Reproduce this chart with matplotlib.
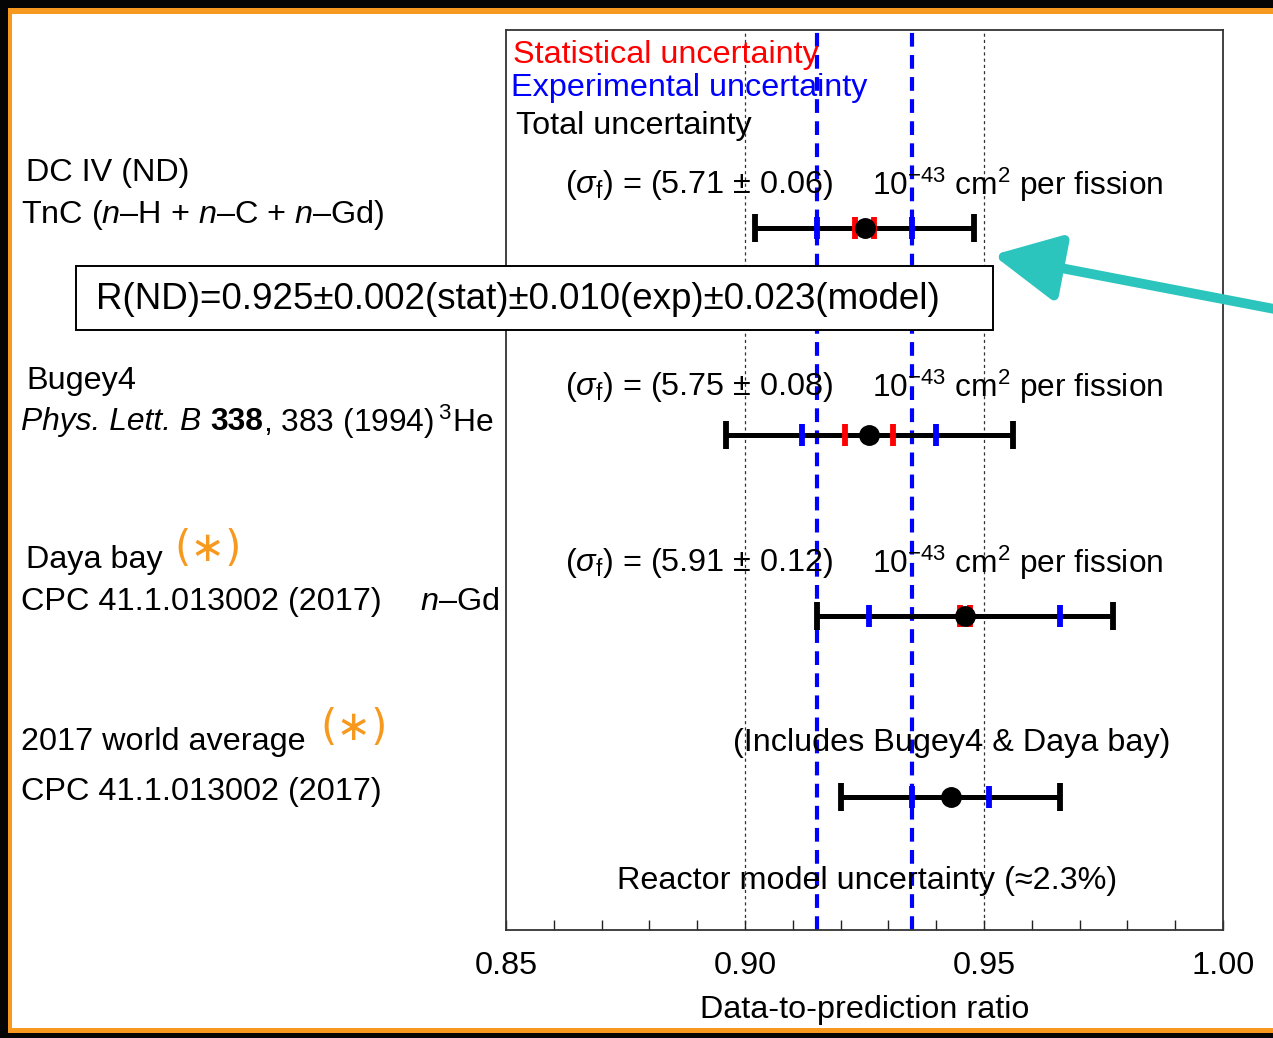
import matplotlib
matplotlib.use("Agg")
import matplotlib.pyplot as plt
from matplotlib.patches import Rectangle, FancyArrowPatch

plt.rcParams['font.family'] = ['Liberation Sans', 'DejaVu Sans']
plt.rcParams['mathtext.fontset'] = 'custom'
plt.rcParams['mathtext.rm'] = 'Liberation Sans'
plt.rcParams['mathtext.it'] = 'Liberation Sans:italic'
plt.rcParams['mathtext.bf'] = 'Liberation Sans:bold'
plt.rcParams['mathtext.sf'] = 'Liberation Sans'

# ---- data: data-to-prediction ratios ----
experiments = ["DC IV (ND)", "Bugey4", "Daya bay", "2017 world average"]
ratio = [0.925, 0.926, 0.946, 0.943]
stat_unc = [0.002, 0.005, 0.001, None]
exp_unc = [0.010, 0.014, 0.020, 0.008]
total_unc = [0.023, 0.030, 0.031, 0.023]
sigma_f = ["5.71", "5.75", "5.91"]
sigma_f_err = ["0.06", "0.08", "0.12"]
dc_band = [0.915, 0.935]          # DC IV experimental band
ref_lines = [0.90, 0.95]
xticks = [0.85, 0.90, 0.95, 1.00]
xtick_labels = ["0.85", "0.90", "0.95", "1.00"]

W, H = 1273, 1038
fig = plt.figure(figsize=(W / 100, H / 100), dpi=100)
renderer = fig.canvas.get_renderer()


def fx(px):
    return px / W


def fy(py):
    return 1 - py / H


def run_text(x_px, y_px, pieces, size):
    """Draw consecutive text pieces on one line, left to right."""
    x = x_px
    for s, props in pieces:
        t = fig.text(fx(x), fy(y_px), s, fontsize=size, va='center', ha='left', **props)
        x += t.get_window_extent(renderer).width


ax = fig.add_axes([fx(506), fy(930), fx(1223) - fx(506), fy(30) - fy(930)])
ax.set_xlim(0.85, 1.00)
ax.set_ylim(900, 0)

row_y = [198, 405, 586, 767]

# reference and band lines
for xv in ref_lines:
    ax.axvline(xv, color='#333333', lw=0.9, ls=(0, (2.5, 2.5)), zorder=1)
for xv in dc_band:
    ax.axvline(xv, color='#0000ff', lw=3.0, ls=(0, (3.3, 2.0)), zorder=2)

for i, y in enumerate(row_y):
    x = ratio[i]
    ax.errorbar([x], [y], xerr=[total_unc[i]], fmt='none', ecolor='black',
                elinewidth=3.6, capsize=10, capthick=4.2, zorder=3)
    ax.vlines([x - exp_unc[i], x + exp_unc[i]], y - 11, y + 11,
              colors='#0000ff', lw=4.2, zorder=4)
    if stat_unc[i] is not None:
        ax.vlines([x - stat_unc[i], x + stat_unc[i]], y - 11, y + 11,
                  colors='#ff0000', lw=4.2, zorder=5)
    ax.plot([x], [y], 'o', color='black', ms=14, zorder=6)

fs = 23.3

ax.set_yticks([])
ax.set_xticks(xticks)
ax.set_xticklabels(xtick_labels)
ax.set_xticks([0.85 + 0.01 * k for k in range(16)], minor=True)
ax.tick_params(axis='x', which='both', direction='in', length=7, width=1.0,
               labelsize=fs, pad=15, colors='#222222', labelcolor='black')
for s in ax.spines.values():
    s.set_linewidth(1.3)
    s.set_color('#333333')
ax.set_xlabel("Data-to-prediction ratio", fontsize=fs, labelpad=10)


def ax_x(px):
    return 0.85 + (px - 506) / 4780


# legend-like texts
ax.text(ax_x(513), 25, "Statistical uncertainty",
        color='#ff0000', fontsize=fs, va='center', ha='left', zorder=7)
ax.text(ax_x(511), 58, "Experimental uncertainty",
        color='#0000ff', fontsize=fs, va='center', ha='left', zorder=7)
ax.text(ax_x(516), 96, "Total uncertainty",
        color='black', fontsize=fs, va='center', ha='left', zorder=7)

# cross-section annotations
sig_rows = [155, 357, 533]
for k, yy in enumerate(sig_rows):
    ax.text(ax_x(565), yy,
            r"($\sigma_{\mathrm{f}}$) = (" + sigma_f[k] + " ± " + sigma_f_err[k] + ")",
            fontsize=fs, va='center', ha='left', zorder=7)
    ax.text(ax_x(872), yy,
            r"10$^{-43}$ cm$^{2}$ per fission",
            fontsize=22.8, va='center', ha='left', zorder=7)

ax.text(ax_x(733), 713, "(Includes Bugey4 & Daya bay)",
        fontsize=fs, va='center', ha='left', zorder=7)
ax.text(ax_x(617), 851, "Reactor model uncertainty (≈2.3%)",
        fontsize=fs, va='center', ha='left', zorder=7)

# left-hand labels
fig.text(fx(26), fy(173), "DC IV (ND)", fontsize=fs, va='center')
fig.text(fx(21), fy(215), r"TnC ($\mathit{n}$–H + $\mathit{n}$–C + $\mathit{n}$–Gd)",
         fontsize=fs, va='center')
fig.text(fx(26), fy(381), "Bugey4", fontsize=fs, va='center')
run_text(21, 422, [("Phys. Lett. B ", dict(fontstyle='italic')),
                   ("338", dict(fontweight='bold')),
                   (r", 383 (1994)$\,^{3}$He", {})], 22.9)
fig.text(fx(26), fy(560), "Daya bay", fontsize=fs, va='center')
fig.text(fx(21), fy(602), "CPC 41.1.013002 (2017)", fontsize=fs, va='center')
fig.text(fx(420), fy(602), r"$\mathit{n}$–Gd", fontsize=fs, va='center')
fig.text(fx(21), fy(742), "2017 world average", fontsize=fs, va='center')
fig.text(fx(21), fy(792), "CPC 41.1.013002 (2017)", fontsize=fs, va='center')

orange = '#f7981f'
fig.text(fx(208), fy(549), "(∗)", fontsize=30, color=orange, va='center',
         ha='center', family=['DejaVu Sans'])
fig.text(fx(354), fy(728), "(∗)", fontsize=30, color=orange, va='center',
         ha='center', family=['DejaVu Sans'])

# result box
fig.text(fx(96), fy(299), "R(ND)=0.925±0.002(stat)±0.010(exp)±0.023(model)",
         fontsize=26.5, va='center', ha='left', zorder=10)
fig.patches.append(Rectangle((fx(76), fy(330)), fx(993) - fx(76), fy(266) - fy(330),
                             transform=fig.transFigure, facecolor='white',
                             edgecolor='black', lw=1.4, zorder=9))

# arrow pointing at the DC IV point
arr = FancyArrowPatch((fx(1290), fy(312)), (fx(993), fy(255)),
                      transform=fig.transFigure,
                      arrowstyle='-|>,head_length=3.4,head_width=1.7',
                      color='#2cc5bd', lw=7, mutation_scale=12,
                      shrinkA=0, shrinkB=0, zorder=11)
fig.patches.append(arr)

# frame: black outer band with an orange inner edge
black = '#050505'
for (x0, y0, w, h, c) in [
    (0, 0, W, 8, black), (0, 8, W, 6, orange),
    (0, 0, 8, H, black), (8, 14, 4, 1016, orange),
    (0, 1033, W, 5, black), (8, 1028, W, 5, orange),
]:
    fig.patches.append(Rectangle((fx(x0), fy(y0 + h)), fx(w), h / H,
                                 transform=fig.transFigure, facecolor=c,
                                 edgecolor='none', zorder=20))

fig.savefig("out.png", dpi=100)
